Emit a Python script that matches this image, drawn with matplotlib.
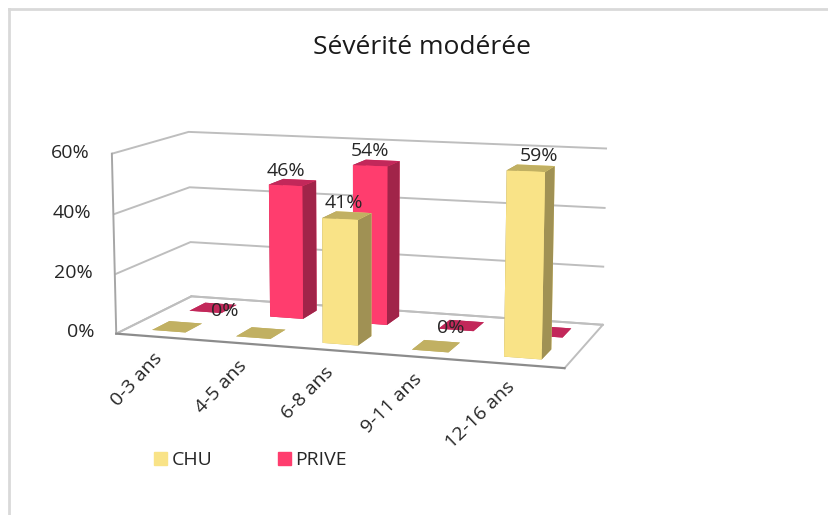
import matplotlib
matplotlib.use('Agg')
import matplotlib.pyplot as plt
from matplotlib.lines import Line2D
from matplotlib.patches import Patch

plt.rcParams['font.family'] = ['Open Sans', 'DejaVu Sans']

categories = ['0-3 ans', '4-5 ans', '6-8 ans', '9-11 ans', '12-16 ans']
chu = [0, 0, 41, 0, 59]
prive = [0, 46, 54, 0, 0]
z_ticks = [0, 20, 40, 60]
# which labels the original chart actually prints
chu_labels = [False, False, True, False, True]
prive_labels = [True, True, True, True, False]
# sideways shift of the labels, the original places them unevenly
chu_dx = [0, 0, -0.04, 0, 0.08]
prive_dx = [0.15, -0.08, -0.08, -0.12, 0]

W, H = 829, 515
fig = plt.figure(figsize=(W / 100, H / 100), dpi=100)

# small axes + big zoom gives the stronger perspective of the original
side = 340
cx, cy = 357.5, 245.5
ax = fig.add_axes([(cx - side / 2) / W, 1 - (cy + side / 2) / H, side / W, side / H],
                  projection='3d')
ax.set_box_aspect((427, 178, 170), zoom=0.96 * 1.03 * 515 / side)
ax.view_init(elev=10.2, azim=-72)
ax.set_xlim(0, 5, view_margin=0)
ax.set_ylim(0, 2, view_margin=0)
ax.set_zlim(0, 60, view_margin=0)
ax.patch.set_alpha(0)

# walls and grid
for axis in (ax.xaxis, ax.yaxis, ax.zaxis):
    axis.set_pane_color((1, 1, 1, 1))
    axis.pane.set_edgecolor((1, 1, 1, 0))
    axis.line.set_color((1, 1, 1, 0))
    axis._axinfo['grid'].update(color='#BEBEBE', linewidth=1.4)
    axis._axinfo['tick'].update(inward_factor=0, outward_factor=0)
ax.set_xticks([])
ax.set_yticks([])
ax.set_zticks(z_ticks)
ax.set_zticklabels([])

# the unused built-in texts stay off
for axis in (ax.xaxis, ax.yaxis, ax.zaxis):
    axis.label.set_visible(False)
    axis.get_offset_text().set_visible(False)
    for lab in axis.get_ticklabels():
        lab.set_visible(False)
for t in (ax.title, ax._left_title, ax._right_title):
    t.set_visible(False)

# box edges
edge = '#A6A6A6'
ax.plot([0, 0], [0, 0], [0, 60], color=edge, lw=1.4)
ax.plot([0, 0], [0, 2], [0, 0], color='#BEBEBE', lw=1.4)
ax.plot([5, 5], [0, 2], [0, 0], color='#BEBEBE', lw=1.4)
ax.plot([0, 5], [0, 0], [0, 0], color='#8C8C8C', lw=1.6)
ax.plot([0, 5], [2, 2], [0, 0], color='#BEBEBE', lw=1.4)

# bars
bar_w = 0.40
bar_d = 0.45
series = [
    (chu, 0.5, '#F9E387', '#C1B062', '#A09154'),
    (prive, 1.5, '#FF3D6E', '#C2285A', '#A12449'),
]
for values, row, front, top, sidec in series:
    for i, v in enumerate(values):
        ax.bar3d(i + 0.5 - bar_w / 2, row - bar_d / 2, 0, bar_w, bar_d, v,
                 color=[top, top, front, front, sidec, sidec], shade=False)

# axes is smaller than the box, so nothing may clip to it
for artist in ax.get_children():
    artist.set_clip_on(False)

# data labels
txt = '#262626'
for values, row, show, shift in ((chu, 0.5, chu_labels, chu_dx), (prive, 1.5, prive_labels, prive_dx)):
    for i, v in enumerate(values):
        if show[i]:
            dz = -1 if v == 0 else 4
            ax.text(i + 0.5 + shift[i], row, v + dz, f'{v}%', ha='center', va='center',
                    fontsize=14, color=txt, zorder=100)

# axis labels
for z in z_ticks:
    ax.text(-0.26, 0, z, f'{z}%', ha='right', va='center', fontsize=14, color=txt, zorder=100)
for i, name in enumerate(categories):
    # zdir gives the screen angle: 3D text ignores rotation=
    ax.text(i * 0.97 + 0.58, -0.3, -2, name, zdir=(1, 0, 32), ha='right', va='top',
            rotation_mode='anchor', fontsize=14, color=txt, zorder=100)

fig.text(422 / W, 1 - 47 / H, 'Sévérité modérée', ha='center', va='center',
         fontsize=19, color='#1A1A1A')

handles = [Patch(color='#F9E387', label='CHU'), Patch(color='#FF3D6E', label='PRIVE')]
fig.legend(handles=handles, ncol=2, frameon=False, fontsize=14, labelcolor=txt,
           loc='center left', bbox_to_anchor=(137 / W, 1 - 460 / H),
           handlelength=0.65, handleheight=0.65, handletextpad=0.25, columnspacing=3.35)

# chart frame from the screenshot
frame = '#D9D9D9'
fig.add_artist(Line2D([9 / W, 1], [1 - 9 / H, 1 - 9 / H], color=frame, lw=2))
fig.add_artist(Line2D([9 / W, 9 / W], [0, 1 - 9 / H], color=frame, lw=2))

fig.savefig('out.png', dpi=100)
